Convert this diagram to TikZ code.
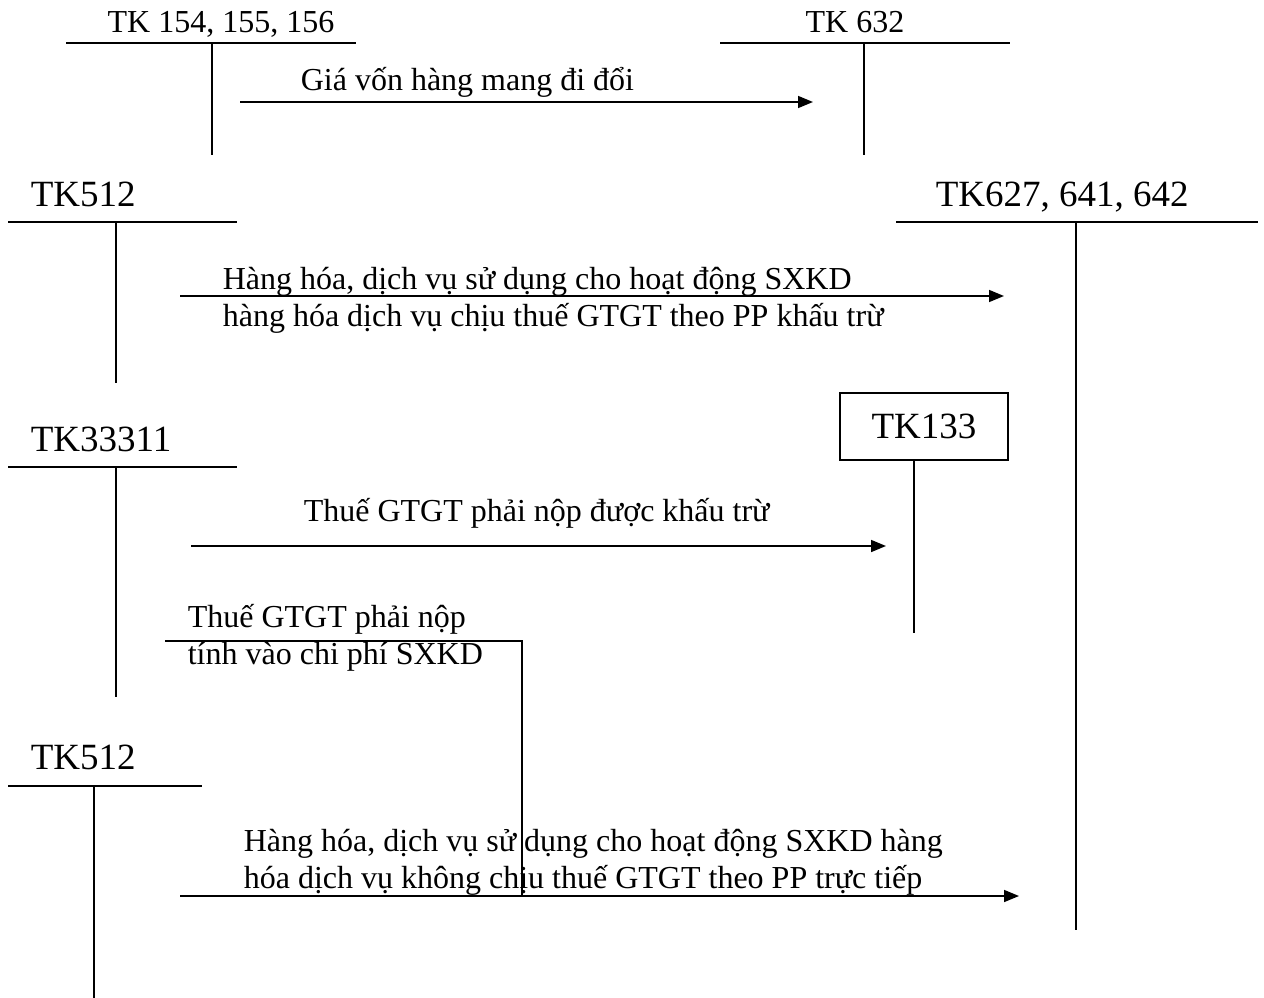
\documentclass[tikz,border=0pt]{standalone}
\usepackage{fontspec}
\setmainfont{Liberation Serif}
\usetikzlibrary{arrows.meta}
\usetikzlibrary{positioning}

\begin{document}
\begin{tikzpicture}[
x=1pt, y=-1pt,
every node/.style={inner sep=0, anchor=base west},
every path/.style={line width=1.6pt},
big/.style={font=\fontsize{37}{42}\selectfont},
txt/.style={font=\fontsize{32}{37}\selectfont, align=left},
flow/.style={-{Triangle[length=15pt,width=12pt]}}
]
\useasboundingbox (0,0) rectangle (1264,998);
% top accounts
\node[txt, anchor=base] (k154) at (221,33) {TK 154, 155, 156};
\node[txt, anchor=base] (k632) at (855,33) {TK 632};
\coordinate (k154l) at (66,43);  \coordinate (k154r) at (356,43);
\coordinate (k154t) at (212,43); \coordinate (k154b) at (212,155);
\coordinate (k632l) at (720,43); \coordinate (k632r) at (1010,43);
\coordinate (k632t) at (864,43); \coordinate (k632b) at (864,155);
\draw (k154l) -- (k154r);
\draw (k154t) -- (k154b);
\draw (k632l) -- (k632r);
\draw (k632t) -- (k632b);
\coordinate (g1) at (240,102); \coordinate (g2) at (813,102);
\draw[flow] (g1) -- (g2);
\node[txt] (giavon) at (300,91) {Giá vốn hàng mang đi đổi};
% TK512 -> TK627
\node[big] (k512) at (30,206) {TK512};
\node[big] (k627) at (935,206) {TK627, 641, 642};
\coordinate (k512l) at (8,222);   \coordinate (k512r) at (237,222);
\coordinate (k512t) at (116,222); \coordinate (k512b) at (116,383);
\coordinate (k627l) at (896,222);  \coordinate (k627r) at (1258,222);
\coordinate (k627t) at (1076,222); \coordinate (k627b) at (1076,930);
\draw (k512l) -- (k512r);
\draw (k512t) -- (k512b);
\draw (k627l) -- (k627r);
\draw (k627t) -- (k627b);
\coordinate (h1) at (180,296); \coordinate (h2) at (1004,296);
\draw[flow] (h1) -- (h2);
\node[txt] (hang1) at (222,326) {Hàng hóa, dịch vụ sử dụng cho hoạt động SXKD\\
hàng hóa dịch vụ chịu thuế GTGT theo PP khấu trừ};
% TK33311 -> TK133
\node[big] (k333) at (30,451) {TK33311};
\node[big, draw, anchor=center, minimum width=168pt, minimum height=67pt] (k133) at (924,426.5) {TK133};
\coordinate (k333l) at (8,467);   \coordinate (k333r) at (237,467);
\coordinate (k333t) at (116,467); \coordinate (k333b) at (116,697);
\coordinate (k133b) at (914,633);
\draw (k333l) -- (k333r);
\draw (k333t) -- (k333b);
\draw (k133.south -| k133b) -- (k133b);
\coordinate (t1) at (191,546); \coordinate (t2) at (886,546);
\draw[flow] (t1) -- (t2);
\node[txt] (thue1) at (303,521) {Thuế GTGT phải nộp được khấu trừ};
\coordinate (c1) at (165,641); \coordinate (c2) at (522,641); \coordinate (c3) at (522,896);
\draw (c1) -- (c2) -- (c3);
\node[txt] (thue2) at (187,664) {Thuế GTGT phải nộp\\tính vào chi phí SXKD};
% TK512 -> TK627 (truc tiep)
\node[big] (k512b) at (30,769) {TK512};
\coordinate (m512l) at (8,786);  \coordinate (m512r) at (202,786);
\coordinate (m512t) at (94,786); \coordinate (m512b) at (94,998);
\draw (m512l) -- (m512r);
\draw (m512t) -- (m512b);
\coordinate (p1) at (180,896); \coordinate (p2) at (1019,896);
\draw[flow] (p1) -- (p2);
\node[txt] (hang2) at (243,888) {Hàng hóa, dịch vụ sử dụng cho hoạt động SXKD hàng\\
hóa dịch vụ không chịu thuế GTGT theo PP trực tiếp};
\end{tikzpicture}
\end{document}
